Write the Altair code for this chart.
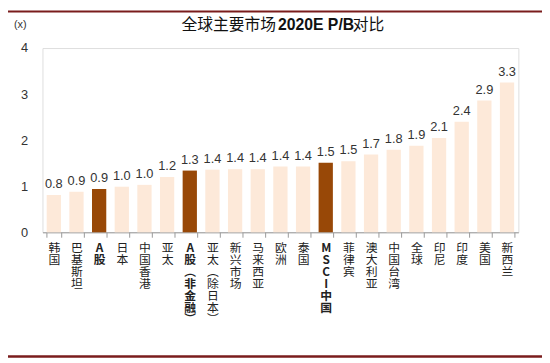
import altair as alt
import pandas as pd

categories = ["韩国", "巴基斯坦", "A股", "日本", "中国香港", "亚太", "A股（非金融）", "亚太（除日本）",
              "新兴市场", "马来西亚", "欧洲", "泰国", "MSCI中国", "菲律宾", "澳大利亚", "中国台湾",
              "全球", "印尼", "印度", "美国", "新西兰"]
values = [0.81, 0.88, 0.94, 0.99, 1.03, 1.20, 1.34, 1.36, 1.37, 1.37, 1.43, 1.43, 1.51, 1.54,
          1.69, 1.79, 1.88, 2.05, 2.40, 2.86, 3.25]
labels = ["0.8", "0.9", "0.9", "1.0", "1.0", "1.2", "1.3", "1.4", "1.4", "1.4", "1.4", "1.4",
          "1.5", "1.5", "1.7", "1.8", "1.9", "2.1", "2.4", "2.9", "3.3"]
highlight = ["A股", "A股（非金融）", "MSCI中国"]
y_ticks = [0, 1, 2, 3, 4]

df = pd.DataFrame({"cat": categories, "val": values, "lab": labels})
df["hl"] = df["cat"].isin(highlight)

CJK = "Noto Sans CJK SC"
LAT = "Liberation Sans"

x_enc = alt.X("cat:N", sort=categories,
              scale=alt.Scale(paddingInner=0.37, paddingOuter=0.185),
              axis=alt.Axis(title=None, labelAngle=0, tickBand="extent",
                            labelExpr="split(replace(replace(datum.label,'（','︵'),'）','︶'),'')",
                            labelFont=CJK, labelFontSize=12, labelLineHeight=12,
                            labelColor="#222", labelBaseline="top", labelPadding=6,
                            labelFontWeight={"condition": {"test": "indexof(['A股','A股（非金融）','MSCI中国'], datum.value) >= 0", "value": "bold"}, "value": "normal"},
                            domainColor="#999", tickColor="#999", tickSize=5))
y_enc = alt.Y("val:Q", scale=alt.Scale(domain=[0, 4], nice=False),
              axis=alt.Axis(title=None, values=y_ticks, grid=False, domain=False, ticks=False,
                            labelFont=LAT, labelFontSize=13, labelColor="#333", labelPadding=15))

bars = alt.Chart(df).mark_bar(stroke=None).encode(
    x=x_enc, y=y_enc,
    color=alt.Color("hl:N", scale=alt.Scale(domain=[False, True], range=["#FDE9D9", "#984807"]), legend=None),
)
text = alt.Chart(df).mark_text(dy=-11, font=LAT, fontSize=13, color="#333").encode(
    x=alt.X("cat:N", sort=categories), y="val:Q", text="lab:N")

t1 = alt.Chart(pd.DataFrame({"t": ["全球主要市场"]})).mark_text(
    align="left", baseline="middle", font=CJK, fontSize=16, color="#111").encode(
    text="t:N", x=alt.value(141), y=alt.value(-23))
t2 = alt.Chart(pd.DataFrame({"t": ["2020E P/B"]})).mark_text(
    align="left", baseline="middle", font=LAT, fontSize=16, fontWeight="bold", color="#111").encode(
    text="t:N", x=alt.value(239), y=alt.value(-23))
t3 = alt.Chart(pd.DataFrame({"t": ["对比"]})).mark_text(
    align="left", baseline="middle", font=CJK, fontSize=16, color="#111").encode(
    text="t:N", x=alt.value(315), y=alt.value(-23))
unit = alt.Chart(pd.DataFrame({"t": ["(x)"]})).mark_text(
    align="left", baseline="middle", font=LAT, fontSize=11, color="#333").encode(
    text="t:N", x=alt.value(-29), y=alt.value(-23))

top_line = alt.Chart(pd.DataFrame({"a": [0]})).mark_rule(color="#7a1c1c", strokeWidth=2).encode(
    x=alt.value(-35), x2=alt.value(507), y=alt.value(-37))
bot_line = alt.Chart(pd.DataFrame({"a": [0]})).mark_rule(color="#7a1c1c", strokeWidth=2.5).encode(
    x=alt.value(-35), x2=alt.value(507), y=alt.value(313))

chart = alt.layer(bars, text, t1, t2, t3, unit, top_line, bot_line).properties(
    width=483, height=187,
    autosize=alt.AutoSizeParams(type="none"),
    padding={"left": 35, "top": 38, "right": 24, "bottom": 130},
).configure_view(stroke=None).configure(background="white")

chart.save("out.html", embed_options={"renderer": "svg", "actions": False})
